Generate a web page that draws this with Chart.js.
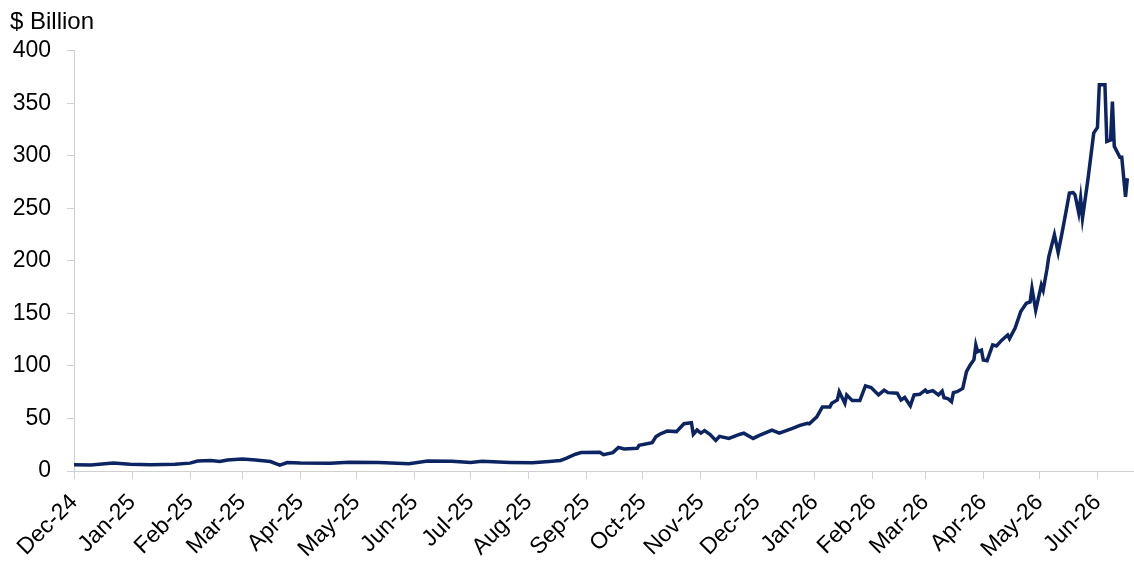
<!DOCTYPE html>
<html lang="en">
<head>
  <meta charset="UTF-8">
  <title>$ Billion</title>
  <script src="https://cdn.jsdelivr.net/npm/chart.js"></script>
  <style>
    html, body { margin: 0; padding: 0; background: #fff; }
    canvas { display: block; }
  </style>
</head>
<body>
  <canvas id="chart" width="1134" height="571"></canvas>

  <script>
    // x values are days since 1 Dec 2024
    const dayOffsets = [
      0, 9, 21, 30, 41, 54, 62, 66, 73, 78, 82, 90, 97, 105, 110, 114, 121, 137, 147, 163,
      179, 189, 202, 212, 218, 233, 245, 254, 260, 263, 268, 271, 281, 283, 288, 291, 294, 301, 302, 309,
      311, 313, 317, 322, 326, 330, 331, 333, 335, 337, 340, 343, 345, 350, 356, 358, 363, 366, 373, 377,
      384, 388, 392, 393, 397, 400, 404, 405, 408, 409, 412, 413, 416, 420, 423, 426, 430, 433, 435, 440,
      442, 444, 447, 449, 452, 455, 456, 459, 462, 464, 465, 467, 469, 470, 472, 475, 477, 479, 481, 482,
      483, 485, 486, 488, 491, 493, 496, 499, 500, 503, 506, 509, 511, 512, 514, 517, 518, 520, 521, 524,
      526, 528, 530, 532, 534, 535, 537, 538, 539, 542, 545, 547, 548, 551, 552, 554, 555, 556, 559, 560,
      562, 563
    ];
    const values = [
      6, 5.8, 7.5, 6.5, 6, 6.5, 7.5, 9.5, 10, 9, 10.5, 11.5, 10.5, 9, 5.5, 8, 7.5, 7.3, 8.3, 8,
      7, 9.5, 9.2, 8, 9.2, 8.2, 7.8, 9, 10, 12, 16, 17.5, 17.8, 15.5, 17.5, 22.5, 21, 21.6, 24.5, 27,
      32.5, 35, 38, 37.5, 45, 46, 35, 39, 36, 38.4, 34.6, 29, 33, 31, 35, 36, 31, 33.6, 39, 36,
      40.6, 43.5, 45.4, 45, 51.5, 61, 61, 64.5, 67.6, 75.5, 64.5, 72.4, 67, 67, 81, 79.4, 72.4, 77, 74.6, 74,
      67.6, 70, 62, 72.4, 73, 77, 75, 76.5, 72.4, 76, 69.8, 69, 66, 74.6, 75.5, 78.6, 94.6, 101, 106, 120,
      113.6, 115, 105.7, 105, 120, 119, 124.8, 129.5, 126, 136, 151.7, 159.7, 161, 174, 153, 177, 172, 192, 204, 225,
      208, 226, 245, 264.5, 265, 263, 245.7, 259.7, 240.6, 278.7, 321.6, 327, 367.6, 367.6, 313.6, 315, 351.7, 309, 298.7, 298.7,
      261, 278.7
    ];

    // month ticks
    const monthDays = [0, 31, 62, 90, 121, 151, 182, 212, 243, 274, 304, 335, 365, 396, 427, 455, 486, 516, 547];
    const monthLabels = [
      'Dec-24', 'Jan-25', 'Feb-25', 'Mar-25', 'Apr-25', 'May-25', 'Jun-25', 'Jul-25', 'Aug-25', 'Sep-25',
      'Oct-25', 'Nov-25', 'Dec-25', 'Jan-26', 'Feb-26', 'Mar-26', 'Apr-26', 'May-26', 'Jun-26'
    ];

    const family = "'Liberation Sans', Arial, sans-serif";
    const font = { family: family, size: 23 };
    const axisGrey = '#d0d0d0';

    const points = dayOffsets.map((d, i) => ({ x: d, y: values[i] }));

    new Chart(document.getElementById('chart'), {
      type: 'line',
      data: {
        datasets: [{
          data: points,
          borderColor: '#0c2461',
          borderWidth: 3.5,
          pointRadius: 0,
          tension: 0,
          fill: false
        }]
      },
      options: {
        responsive: false,
        animation: false,
        layout: { padding: { left: 10, right: 1, top: 0, bottom: 0 } },
        plugins: {
          legend: { display: false },
          tooltip: { enabled: false },
          title: {
            display: true,
            text: '$ Billion',
            align: 'start',
            color: '#000',
            font: { family: family, size: 24, weight: 'normal' },
            padding: { top: 8, bottom: 14 }
          }
        },
        scales: {
          x: {
            type: 'linear',
            min: 0,
            max: 566,
            afterBuildTicks: scale => {
              scale.ticks = monthDays.map(v => ({ value: v }));
            },
            afterFit: scale => { scale.height = 100; },
            grid: { display: true, drawOnChartArea: false, color: axisGrey, tickLength: 8 },
            border: { display: true, color: axisGrey, width: 1 },
            ticks: {
              autoSkip: false,
              maxRotation: 45,
              minRotation: 45,
              padding: 10,
              color: '#000',
              font: font,
              callback: value => monthLabels[monthDays.indexOf(value)]
            }
          },
          y: {
            min: 0,
            max: 400,
            afterFit: scale => { scale.width = 64; },
            grid: { display: true, drawOnChartArea: false, color: axisGrey, tickLength: 7 },
            border: { display: true, color: axisGrey, width: 1 },
            ticks: {
              stepSize: 50,
              padding: 16,
              color: '#000',
              font: font
            }
          }
        }
      }
    });
  </script>
</body>
</html>
